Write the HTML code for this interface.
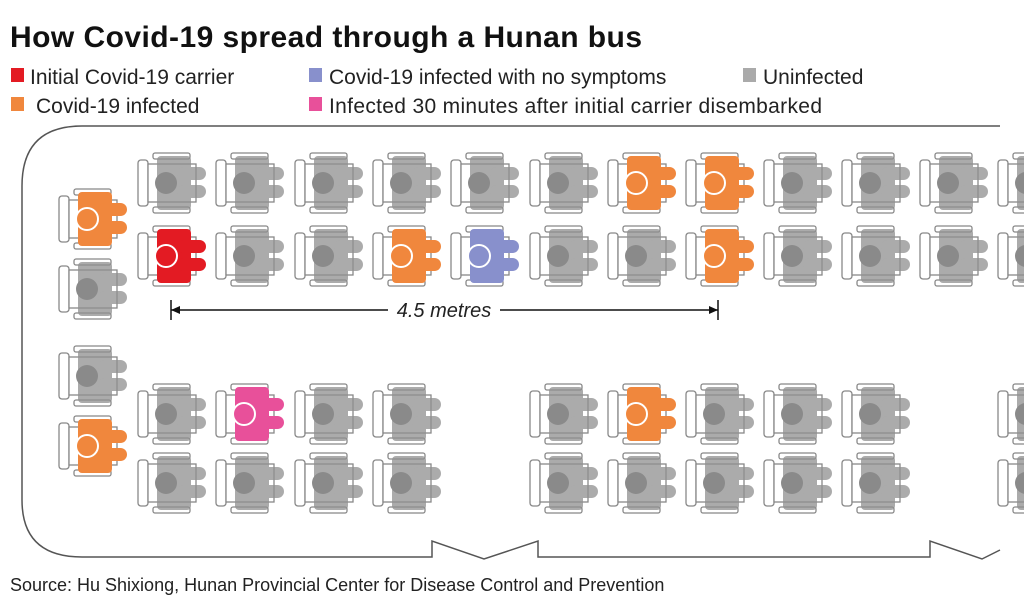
<!DOCTYPE html>
<html><head><meta charset="utf-8"><style>
body{margin:0;background:#fff;width:1024px;height:608px;overflow:hidden}
svg{display:block}
text{font-family:"Liberation Sans",sans-serif}
</style></head><body>
<svg width="1024" height="608" viewBox="0 0 1024 608" xmlns="http://www.w3.org/2000/svg" xmlns:xlink="http://www.w3.org/1999/xlink">
<defs>
<g id="chair">
 <rect x="1" y="8" width="10" height="46" rx="3" fill="#fff" stroke="#888" stroke-width="1.3"/>
 <rect x="11" y="12" width="48" height="38" fill="#fff" stroke="#888" stroke-width="1.3"/>
 <rect x="16" y="1" width="37" height="6" rx="2" fill="#fff" stroke="#888" stroke-width="1.3"/>
 <rect x="16" y="55" width="37" height="6" rx="2" fill="#fff" stroke="#888" stroke-width="1.3"/>
</g>
<g id="body">
 <rect x="20" y="4" width="34" height="54" rx="4"/>
 <rect x="40" y="15" width="29" height="13" rx="6.5"/>
 <rect x="40" y="33" width="29" height="13" rx="6.5"/>
</g>
<g id="G"><use xlink:href="#chair"/><g fill="#8f8f8f" opacity="0.75"><use xlink:href="#body"/></g><circle cx="29" cy="31" r="11" fill="#8a8a8a"/></g>
<g id="O"><use xlink:href="#chair"/><g fill="#f0873d"><use xlink:href="#body"/></g><circle cx="29" cy="31" r="11" fill="#f0873d" stroke="#fff" stroke-width="2"/></g>
<g id="R"><use xlink:href="#chair"/><g fill="#e31b23"><use xlink:href="#body"/></g><circle cx="29" cy="31" r="11" fill="#e31b23" stroke="#fff" stroke-width="2"/></g>
<g id="B"><use xlink:href="#chair"/><g fill="#8890cc"><use xlink:href="#body"/></g><circle cx="29" cy="31" r="11" fill="#8890cc" stroke="#fff" stroke-width="2"/></g>
<g id="P"><use xlink:href="#chair"/><g fill="#e8509a"><use xlink:href="#body"/></g><circle cx="29" cy="31" r="11" fill="#e8509a" stroke="#fff" stroke-width="2"/></g>
</defs>
<text x="10" y="47" font-size="30" font-weight="bold" fill="#111" textLength="632">How Covid-19 spread through a Hunan bus</text>
<g font-size="21" fill="#222">
<rect x="11" y="68" width="13" height="14" fill="#e31b23"/><text x="30" y="84">Initial Covid-19 carrier</text>
<rect x="11" y="97" width="13" height="14" fill="#f0873d"/><text x="36" y="113">Covid-19 infected</text>
<rect x="309" y="68" width="13" height="14" fill="#8890cc"/><text x="329" y="84">Covid-19 infected with no symptoms</text>
<rect x="309" y="97" width="13" height="14" fill="#e8509a"/><text x="329" y="113" textLength="493">Infected 30 minutes after initial carrier disembarked</text>
<rect x="743" y="68" width="13" height="14" fill="#aaa"/><text x="763" y="84">Uninfected</text>
</g>
<path d="M1000 126 H82 Q22 126 22 186 V500 Q22 557 82 557 H432 V541 L484 559 L538 541 V557 H930 V541 L982 559 L1000 550" fill="none" stroke="#555" stroke-width="1.5"/>
<use xlink:href="#G" x="137" y="152"/><use xlink:href="#G" x="215" y="152"/><use xlink:href="#G" x="294" y="152"/><use xlink:href="#G" x="372" y="152"/><use xlink:href="#G" x="450" y="152"/><use xlink:href="#G" x="529" y="152"/><use xlink:href="#O" x="607" y="152"/><use xlink:href="#O" x="685" y="152"/><use xlink:href="#G" x="763" y="152"/><use xlink:href="#G" x="841" y="152"/><use xlink:href="#G" x="919" y="152"/><use xlink:href="#G" x="997" y="152"/>
<use xlink:href="#R" x="137" y="225"/><use xlink:href="#G" x="215" y="225"/><use xlink:href="#G" x="294" y="225"/><use xlink:href="#O" x="372" y="225"/><use xlink:href="#B" x="450" y="225"/><use xlink:href="#G" x="529" y="225"/><use xlink:href="#G" x="607" y="225"/><use xlink:href="#O" x="685" y="225"/><use xlink:href="#G" x="763" y="225"/><use xlink:href="#G" x="841" y="225"/><use xlink:href="#G" x="919" y="225"/><use xlink:href="#G" x="997" y="225"/>
<use xlink:href="#G" x="137" y="383"/><use xlink:href="#P" x="215" y="383"/><use xlink:href="#G" x="294" y="383"/><use xlink:href="#G" x="372" y="383"/><use xlink:href="#G" x="529" y="383"/><use xlink:href="#O" x="607" y="383"/><use xlink:href="#G" x="685" y="383"/><use xlink:href="#G" x="763" y="383"/><use xlink:href="#G" x="841" y="383"/><use xlink:href="#G" x="997" y="383"/>
<use xlink:href="#G" x="137" y="452"/><use xlink:href="#G" x="215" y="452"/><use xlink:href="#G" x="294" y="452"/><use xlink:href="#G" x="372" y="452"/><use xlink:href="#G" x="529" y="452"/><use xlink:href="#G" x="607" y="452"/><use xlink:href="#G" x="685" y="452"/><use xlink:href="#G" x="763" y="452"/><use xlink:href="#G" x="841" y="452"/><use xlink:href="#G" x="997" y="452"/>
<use xlink:href="#O" x="58" y="188"/><use xlink:href="#G" x="58" y="258"/><use xlink:href="#G" x="58" y="345"/><use xlink:href="#O" x="58" y="415"/>
<g stroke="#111" stroke-width="1.5">
<line x1="171" y1="300" x2="171" y2="320"/><line x1="718" y1="300" x2="718" y2="320"/>
<line x1="171" y1="310" x2="388" y2="310"/><line x1="500" y1="310" x2="718" y2="310"/>
</g>
<polygon points="171,310 180,306 180,314" fill="#111"/><polygon points="718,310 709,306 709,314" fill="#111"/>
<text x="444" y="317" font-size="20" font-style="italic" text-anchor="middle" fill="#222">4.5 metres</text>
<text x="10" y="591" font-size="18" fill="#222">Source: Hu Shixiong, Hunan Provincial Center for Disease Control and Prevention</text>
</svg>
</body></html>
